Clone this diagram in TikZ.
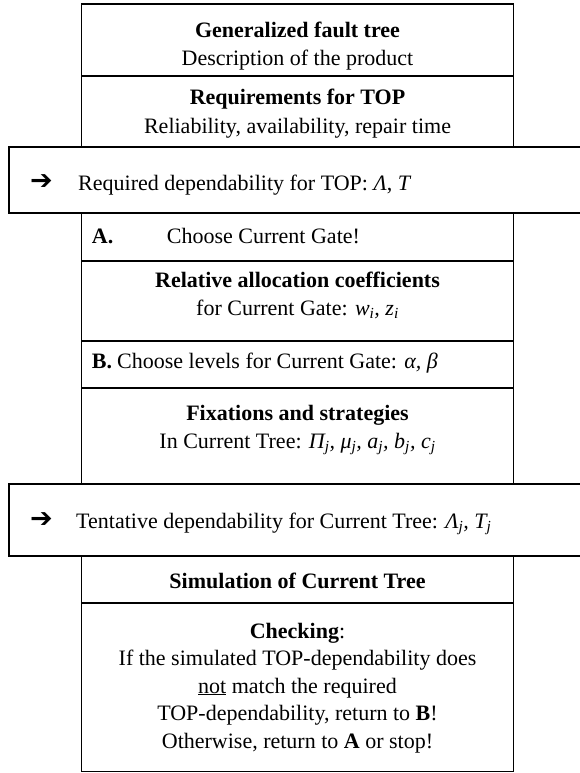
\documentclass[tikz,border=0pt]{standalone}
\usepackage{fontspec}
\setmainfont{Liberation Serif}
\newfontfamily\symfont{DejaVu Sans}
\begin{document}
\begin{tikzpicture}[x=1pt,y=-1pt,
  box/.style={draw, line width=1.3pt, inner sep=0pt, outer sep=0pt, anchor=north west},
  colbox/.style={box, minimum width=432pt},
  widebox/.style={box, minimum width=620pt},
  txt/.style={inner sep=0pt, anchor=base, font=\fontsize{22}{27}\selectfont},
  ltxt/.style={txt, anchor=base west},
  arr/.style={inner sep=0pt, anchor=base west, font=\fontsize{27}{30}\symfont\bfseries}]
\useasboundingbox (0,0) rectangle (580,773);
\fill[white] (0,0) rectangle (580,773);
% boxes
\node[colbox, minimum height=72pt] (b1) at (81.5,4) {};
\node[colbox, minimum height=71pt] (b2) at (81.5,76) {};
\node[widebox, minimum height=66pt] (w1) at (9,147) {};
\node[colbox, minimum height=48pt] (bA) at (81.5,213) {};
\node[colbox, minimum height=80pt] (bR) at (81.5,261) {};
\node[colbox, minimum height=47pt] (bB) at (81.5,341) {};
\node[colbox, minimum height=96pt] (bF) at (81.5,388) {};
\node[widebox, minimum height=72pt] (w2) at (9,484) {};
\node[colbox, minimum height=47pt] (bS) at (81.5,556) {};
\node[colbox, minimum height=168.5pt] (bC) at (81.5,603) {};
% texts
\begin{scope}
\clip (81.5,4) rectangle (513.5,73.6);
\node[txt] (t1) at (297.5,38) {\textbf{Generalized fault tree}};
\node[txt] (t2) at (297.5,66) {Description of the product};
\end{scope}
\begin{scope}
\clip (81.5,76) rectangle (513.5,144.6);
\node[txt] (t3) at (297.5,105) {\textbf{Requirements for TOP}};
\node[txt] (t4) at (297.5,133) {Reliability, availability, repair time};
\end{scope}
\node[arr] (a1) at (30,189) {➔};
\node[ltxt] (t5) at (78,190) {Required dependability for TOP: \textit{Λ}, \textit{T}};
\node[ltxt] (tA1) at (91.7,243) {\textbf{A.}};
\node[ltxt] (tA2) at (166.7,243) {Choose Current Gate!};
\node[txt] (tR1) at (297.5,287) {\textbf{Relative allocation coefficients}};
\node[txt] (tR2) at (297.5,315) {for Current Gate: \textit{w\textsubscript{i}, z\textsubscript{i}}};
\node[ltxt] (tB1) at (91.7,368) {\textbf{B.}};
\node[ltxt] (tB2) at (117,368) {Choose levels for Current Gate: \textit{α, β}};
\node[txt] (tF1) at (297.5,420) {\textbf{Fixations and strategies}};
\node[txt] (tF2) at (297.5,448) {In Current Tree: \textit{Π\textsubscript{j}, μ\textsubscript{j}, a\textsubscript{j}, b\textsubscript{j}, c\textsubscript{j}}};
\node[arr] (a2) at (30,527) {➔};
\node[ltxt] (t6) at (76,528) {Tentative dependability for Current Tree: \textit{Λ\textsubscript{j}, T\textsubscript{j}}};
\node[txt] (tS) at (297.5,588) {\textbf{Simulation of Current Tree}};
\node[txt] (tC1) at (297.5,638) {\textbf{Checking}:};
\node[txt] (tC2) at (297.5,665.5) {If the simulated TOP-dependability does};
\node[txt] (tC3) at (297.5,693) {\underline{not} match the required};
\node[txt] (tC4) at (297.5,720.5) {TOP-dependability, return to \textbf{B}!};
\node[txt] (tC5) at (297.5,748) {Otherwise, return to \textbf{A} or stop!};
\end{tikzpicture}
\end{document}
